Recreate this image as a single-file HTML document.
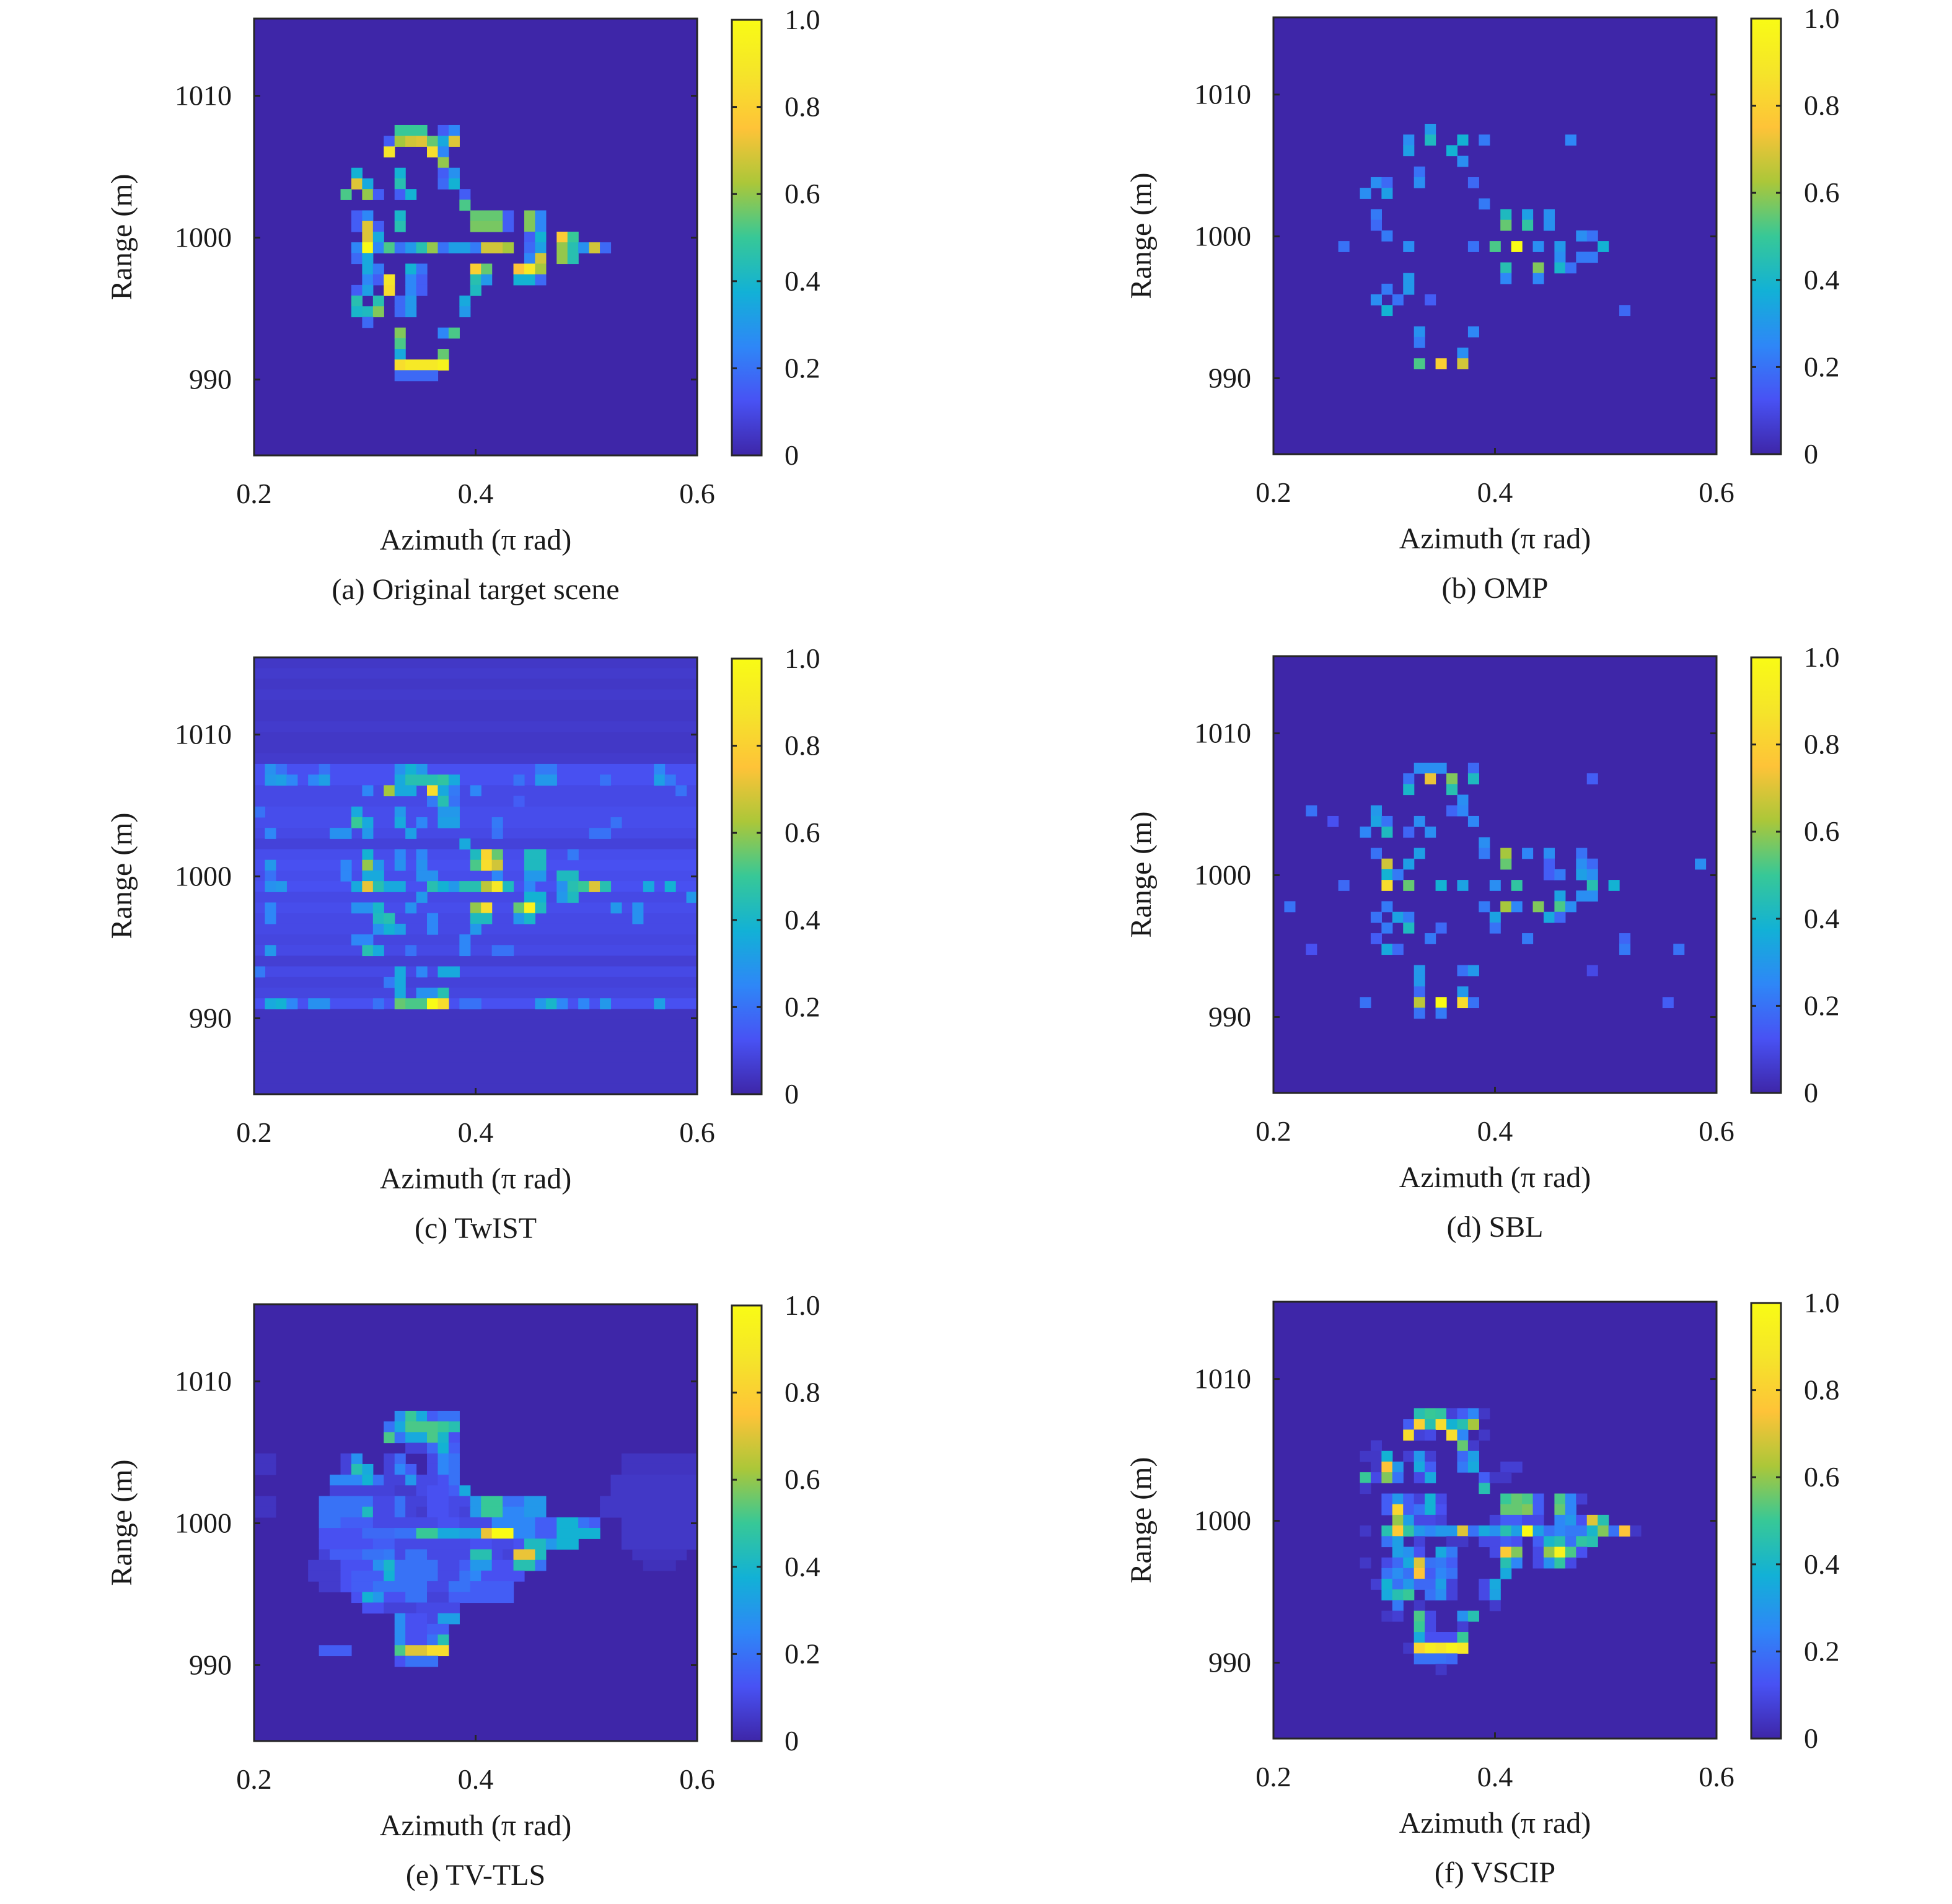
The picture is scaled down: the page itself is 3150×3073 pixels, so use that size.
<!DOCTYPE html>
<html><head><meta charset="utf-8"><style>
html,body{margin:0;padding:0;background:#fff;}
svg{display:block;}
svg text{font-family:"Liberation Serif","DejaVu Serif",serif;fill:#1a1a1a;}
</style></head><body>
<svg id="fig" width="3150" height="3073" viewBox="0 0 3150 3073" font-family="Liberation Serif, DejaVu Serif, serif" xmlns="http://www.w3.org/2000/svg">
<defs>
<linearGradient id="parula" x1="0" y1="1" x2="0" y2="0">
<stop offset="0" stop-color="rgb(62,38,168)"/><stop offset="0.125" stop-color="rgb(72,82,244)"/>
<stop offset="0.25" stop-color="rgb(46,135,247)"/><stop offset="0.375" stop-color="rgb(18,177,214)"/>
<stop offset="0.5" stop-color="rgb(55,200,151)"/><stop offset="0.625" stop-color="rgb(171,199,57)"/>
<stop offset="0.75" stop-color="rgb(254,195,56)"/><stop offset="0.875" stop-color="rgb(245,228,42)"/>
<stop offset="1" stop-color="rgb(249,251,21)"/>
</linearGradient>
</defs>
</svg>
<script>
// ---- shared axis data ----
const nCols = 41, nRows = 41;
const azMin = 0.2, azMax = 0.6;
const rangeTop = 1015.44, rangeBottom = 984.65;
const xTicks = [0.2, 0.4, 0.6];
const xTickLabels = ["0.2", "0.4", "0.6"];
const yTicks = [1010, 1000, 990];
const yTickLabels = ["1010", "1000", "990"];
const cbTicks = [0, 0.2, 0.4, 0.6, 0.8, 1.0];
const cbTickLabels = ["0", "0.2", "0.4", "0.6", "0.8", "1.0"];
const captions = ["(a) Original target scene", "(b) OMP", "(c) TwIST", "(d) SBL", "(e) TV-TLS", "(f) VSCIP"];

// ---- heatmap cell data: [row, colStart, colEnd, value] ----
const cellsA = [
[10,13,15,.5],[10,17,17,.15],[10,18,18,.25],
[11,12,12,.15],[11,13,13,.62],[11,14,14,.68],[11,15,15,.7],[11,16,16,.55],[11,17,17,.35],[11,18,18,.7],
[12,12,12,.88],[12,16,16,.85],[12,17,17,.25],[13,17,17,.6],
[14,9,9,.38],[14,13,13,.38],[14,17,17,.15],[14,18,18,.28],
[15,9,9,.7],[15,10,10,.35],[15,13,13,.45],[15,17,17,.18],[15,18,18,.38],
[16,8,8,.52],[16,10,10,.6],[16,11,11,.15],[16,13,13,.15],[16,14,14,.38],[16,19,19,.15],
[17,19,19,.52],
[18,9,9,.15],[18,10,10,.25],[18,13,13,.4],[18,20,22,.55],[18,23,23,.15],[18,25,25,.58],[18,26,26,.25],
[19,9,9,.15],[19,10,10,.7],[19,11,11,.15],[19,13,13,.45],[19,20,22,.57],[19,23,23,.15],[19,25,25,.58],[19,26,26,.25],
[20,10,10,.7],[20,11,11,.35],[20,25,25,.15],[20,26,26,.38],[20,28,28,.78],[20,29,29,.5],
[21,9,9,.25],[21,10,10,1.0],[21,11,11,.25],[21,12,12,.52],[21,13,13,.2],[21,14,14,.3],[21,15,15,.45],[21,16,16,.6],[21,17,17,.2],[21,18,19,.32],[21,20,20,.22],[21,21,22,.68],[21,23,23,.62],[21,25,25,.18],[21,26,26,.32],[21,28,28,.6],[21,29,29,.45],[21,30,30,.28],[21,31,31,.68],[21,32,32,.18],
[22,9,9,.18],[22,10,10,.35],[22,25,25,.25],[22,26,26,.68],[22,28,28,.6],[22,29,29,.45],
[23,10,10,.35],[23,11,11,.22],[23,14,14,.38],[23,15,15,.2],[23,20,20,.8],[23,21,21,.55],[23,24,24,.75],[23,25,25,.9],[23,26,26,.62],
[24,10,10,.25],[24,11,11,.15],[24,12,12,.88],[24,14,14,.25],[24,15,15,.15],[24,20,20,.45],[24,21,21,.3],[24,24,25,.38],[24,26,26,.18],
[25,9,9,.15],[25,10,10,.32],[25,12,12,.85],[25,14,14,.25],[25,15,15,.15],[25,20,20,.42],
[26,9,9,.45],[26,11,11,.45],[26,13,13,.18],[26,14,14,.3],[26,19,19,.35],
[27,9,9,.4],[27,10,10,.42],[27,11,11,.58],[27,13,13,.18],[27,14,14,.3],[27,19,19,.3],
[28,10,10,.18],[29,13,13,.58],[29,17,17,.25],[29,18,18,.52],[30,13,13,.52],[31,13,13,.35],[31,17,17,.55],
[32,13,13,.85],[32,14,16,.9],[32,17,17,.95],[33,13,16,.18]];

const cellsB = [
[10,14,14,.3],[11,12,12,.27],[11,14,14,.42],[11,17,17,.38],[11,19,19,.22],[11,27,27,.25],
[12,12,12,.32],[12,16,16,.38],[13,17,17,.27],[14,13,13,.2],
[15,9,9,.27],[15,10,10,.18],[15,13,13,.27],[15,18,18,.18],[16,8,8,.27],[16,10,10,.32],[17,19,19,.22],
[18,9,9,.22],[18,21,21,.42],[18,23,23,.32],[18,25,25,.28],[19,9,9,.18],[19,21,21,.55],[19,23,23,.48],[19,25,25,.28],
[20,10,10,.22],[20,28,28,.27],[20,29,29,.2],
[21,6,6,.2],[21,12,12,.27],[21,18,18,.2],[21,20,20,.52],[21,22,22,1.0],[21,24,24,.27],[21,26,26,.3],[21,30,30,.38],
[22,26,26,.27],[22,28,29,.22],[23,21,21,.45],[23,24,24,.58],[23,26,26,.4],[23,27,27,.2],
[24,12,12,.3],[24,21,21,.25],[24,24,24,.25],[25,10,10,.22],[25,12,12,.3],
[26,9,9,.27],[26,11,11,.2],[26,14,14,.15],[27,10,10,.38],[27,32,32,.18],
[29,13,13,.28],[29,18,18,.25],[30,13,13,.22],[31,17,17,.27],[32,13,13,.52],[32,15,15,.8],[32,17,17,.68]];

const rowBaseC = [.05,.06,.05,.06,.05,.05,.06,.05,.05,.06,.12,.12,.1,.1,.11,.11,.1,.08,.11,.12,.11,.12,.1,.11,.1,.1,.09,.1,.07,.1,.08,.09,.12,.04,.04,.04,.04,.04,.04,.04,.04];
const cellsC = [
[10,1,1,.28],[10,2,2,.2],[10,6,6,.2],[10,13,13,.28],[10,14,14,.38],[10,15,15,.3],[10,26,27,.22],[10,37,37,.25],
[11,1,1,.3],[11,2,2,.32],[11,3,3,.25],[11,5,5,.25],[11,6,6,.32],[11,13,13,.35],[11,14,16,.45],[11,17,17,.48],[11,18,18,.35],[11,24,24,.2],[11,26,27,.3],[11,32,32,.2],[11,37,37,.32],[11,38,38,.22],
[12,10,10,.25],[12,12,12,.62],[12,13,14,.35],[12,16,16,.85],[12,17,17,.35],[12,18,18,.22],[12,20,20,.25],[12,39,39,.2],
[13,16,16,.22],[13,17,17,.45],[13,18,18,.2],[13,24,24,.15],
[14,0,0,.2],[14,9,9,.35],[14,13,13,.3],[14,17,18,.3],
[15,9,9,.5],[15,10,10,.35],[15,13,13,.35],[15,15,15,.25],[15,17,18,.32],[15,22,22,.22],[15,33,33,.2],
[16,1,1,.25],[16,7,8,.28],[16,10,10,.3],[16,14,14,.32],[16,22,22,.2],[16,31,32,.2],[17,19,19,.35],
[18,10,10,.38],[18,13,13,.25],[18,15,15,.25],[18,20,20,.42],[18,21,21,.82],[18,22,22,.55],[18,25,26,.42],[18,29,29,.22],
[19,1,1,.3],[19,8,8,.25],[19,10,10,.6],[19,11,11,.3],[19,13,13,.28],[19,15,15,.28],[19,20,20,.52],[19,21,21,.85],[19,22,22,.68],[19,25,26,.42],
[20,1,1,.2],[20,8,8,.25],[20,10,11,.35],[20,15,16,.28],[20,22,22,.25],[20,25,26,.3],[20,28,29,.42],
[21,1,1,.28],[21,2,2,.3],[21,9,9,.35],[21,10,10,.72],[21,11,11,.45],[21,12,13,.35],[21,16,16,.45],[21,17,17,.38],[21,18,18,.3],[21,19,20,.45],[21,21,21,.65],[21,22,22,.9],[21,23,23,.42],[21,25,25,.25],[21,28,28,.28],[21,29,29,.45],[21,30,30,.5],[21,31,31,.7],[21,32,32,.45],[21,36,36,.35],[21,38,38,.38],
[22,15,15,.3],[22,25,26,.38],[22,28,28,.3],[22,29,29,.42],[22,40,40,.3],
[23,1,1,.25],[23,9,10,.28],[23,11,11,.4],[23,14,14,.28],[23,20,20,.6],[23,21,21,.85],[23,24,24,.55],[23,25,25,.95],[23,26,26,.42],[23,33,33,.3],[23,35,35,.28],
[24,1,1,.25],[24,11,11,.42],[24,12,12,.45],[24,16,16,.25],[24,20,21,.42],[24,24,24,.3],[24,25,25,.4],[24,35,35,.28],
[25,11,11,.28],[25,12,12,.38],[25,13,13,.32],[25,16,16,.25],[25,20,20,.3],[26,9,10,.25],[26,19,19,.25],
[27,1,1,.3],[27,10,10,.45],[27,11,11,.35],[27,14,14,.2],[27,19,19,.25],[27,22,23,.2],
[29,0,0,.22],[29,13,13,.35],[29,15,15,.25],[29,17,18,.35],[30,12,12,.22],[30,13,13,.35],[31,13,13,.35],[31,15,16,.28],[31,17,17,.45],
[32,1,1,.35],[32,2,2,.38],[32,3,3,.25],[32,5,6,.28],[32,11,11,.2],[32,13,13,.55],[32,14,15,.52],[32,16,16,1.0],[32,17,17,.85],[32,19,20,.2],[32,26,26,.3],[32,27,27,.4],[32,28,28,.25],[32,30,30,.25],[32,32,32,.3],[32,37,37,.32]];

const cellsD = [
[10,13,15,.27],[10,18,18,.18],[11,12,12,.2],[11,14,14,.72],[11,16,16,.58],[11,18,18,.42],[11,29,29,.15],
[12,12,12,.4],[12,16,16,.45],[13,17,17,.27],
[14,3,3,.2],[14,9,9,.3],[14,16,16,.17],[14,17,17,.25],
[15,5,5,.12],[15,9,9,.33],[15,10,10,.2],[15,13,13,.27],[15,18,18,.25],
[16,8,8,.25],[16,10,10,.42],[16,12,12,.17],[16,14,14,.27],[17,19,19,.27],
[18,9,9,.2],[18,13,13,.32],[18,19,19,.22],[18,21,21,.62],[18,23,23,.25],[18,25,25,.27],[18,28,28,.2],
[19,10,10,.68],[19,12,12,.32],[19,21,21,.55],[19,25,25,.15],[19,28,28,.27],[19,29,29,.18],[19,39,39,.27],
[20,10,10,.38],[20,11,11,.22],[20,25,25,.15],[20,26,26,.22],[20,28,28,.32],[20,29,29,.27],
[21,6,6,.18],[21,10,10,.85],[21,12,12,.55],[21,15,15,.38],[21,17,17,.33],[21,20,20,.27],[21,22,22,.48],[21,29,29,.45],[21,31,31,.38],
[22,26,26,.33],[22,28,29,.27],
[23,1,1,.2],[23,10,10,.22],[23,19,19,.22],[23,21,21,.62],[23,22,22,.25],[23,24,24,.58],[23,26,26,.52],[23,27,27,.27],
[24,9,9,.2],[24,11,11,.33],[24,12,12,.22],[24,20,20,.33],[24,25,25,.35],[24,26,26,.18],
[25,10,10,.22],[25,12,12,.42],[25,15,15,.18],[25,20,20,.2],
[26,9,9,.15],[26,14,14,.22],[26,23,23,.22],[26,32,32,.17],
[27,3,3,.12],[27,10,10,.35],[27,11,11,.18],[27,32,32,.22],[27,37,37,.2],
[29,13,13,.3],[29,17,17,.2],[29,18,18,.3],[29,29,29,.1],[30,13,13,.3],[31,13,13,.18],[31,17,17,.3],
[32,8,8,.2],[32,13,13,.65],[32,15,15,1.0],[32,17,17,.85],[32,18,18,.2],[32,36,36,.15],[33,13,13,.2],[33,15,15,.22]];

const cellsE = [
[14,34,40,.04],[15,34,40,.04],[16,33,40,.05],[17,33,40,.05],[18,32,40,.05],[19,32,40,.05],[20,34,40,.05],[21,34,40,.05],[22,34,40,.05],[23,35,39,.04],[24,36,38,.03],
[14,0,1,.04],[15,0,1,.04],[18,0,1,.04],[19,0,1,.04],
[10,13,13,.28],[10,14,14,.5],[10,15,15,.35],[10,16,16,.15],[10,17,18,.2],
[11,12,12,.2],[11,13,13,.35],[11,14,16,.52],[11,17,17,.5],[11,18,18,.45],
[12,12,12,.52],[12,13,13,.2],[12,14,15,.35],[12,16,16,.52],[12,17,17,.4],[12,18,18,.12],
[13,14,15,.08],[13,16,16,.18],[13,17,17,.38],[13,18,18,.15],
[14,8,8,.08],[14,9,9,.28],[14,12,12,.08],[14,13,13,.18],[14,16,16,.1],[14,17,17,.25],[14,18,18,.2],
[15,8,8,.08],[15,9,9,.45],[15,10,10,.35],[15,12,12,.08],[15,13,13,.25],[15,14,14,.15],[15,16,16,.1],[15,17,17,.25],[15,18,18,.2],
[16,7,9,.25],[16,10,10,.38],[16,11,11,.2],[16,12,13,.08],[16,14,14,.3],[16,15,16,.1],[16,17,17,.12],[16,18,18,.2],
[17,7,12,.08],[17,13,14,.06],[17,15,15,.1],[17,16,17,.12],[17,18,18,.15],[17,19,19,.35],
[18,6,9,.2],[18,10,10,.2],[18,11,12,.1],[18,13,13,.2],[18,14,15,.08],[18,16,17,.12],[18,18,19,.1],[18,20,20,.3],[18,21,22,.5],[18,23,24,.2],[18,25,26,.3],
[19,6,9,.2],[19,10,10,.42],[19,11,12,.1],[19,13,13,.2],[19,14,14,.08],[19,15,15,.06],[19,16,17,.12],[19,18,18,.1],[19,19,19,.08],[19,20,20,.3],[19,21,22,.5],[19,23,24,.25],[19,25,26,.3],
[20,6,7,.2],[20,8,10,.15],[20,11,16,.1],[20,17,18,.12],[20,19,21,.1],[20,22,25,.25],[20,26,27,.15],[20,28,29,.38],[20,30,30,.2],[20,31,31,.15],
[21,6,9,.12],[21,10,12,.18],[21,13,14,.2],[21,15,16,.5],[21,17,18,.35],[21,19,20,.32],[21,21,21,.72],[21,22,23,1.0],[21,24,25,.25],[21,26,27,.15],[21,28,31,.38],
[22,6,10,.12],[22,11,12,.15],[22,13,19,.1],[22,20,21,.12],[22,22,23,.1],[22,24,24,.12],[22,25,26,.42],[22,27,27,.3],[22,28,29,.38],
[23,6,6,.08],[23,7,9,.15],[23,10,11,.2],[23,12,12,.22],[23,13,13,.1],[23,14,15,.2],[23,16,19,.1],[23,20,21,.45],[23,22,22,.1],[23,23,23,.08],[23,24,25,.72],[23,26,26,.42],
[24,5,7,.06],[24,8,10,.12],[24,11,11,.28],[24,12,12,.4],[24,13,16,.2],[24,17,18,.1],[24,19,19,.15],[24,20,21,.3],[24,22,23,.12],[24,24,25,.45],[24,26,26,.2],
[25,5,7,.06],[25,8,8,.12],[25,9,11,.15],[25,12,12,.38],[25,13,16,.2],[25,17,18,.1],[25,19,19,.2],[25,20,20,.25],[25,21,24,.12],
[26,6,7,.06],[26,8,8,.12],[26,9,10,.15],[26,11,15,.2],[26,16,17,.1],[26,18,19,.2],[26,20,23,.15],
[27,9,9,.12],[27,10,10,.38],[27,11,11,.3],[27,12,13,.12],[27,14,15,.2],[27,16,17,.08],[27,18,23,.15],
[28,10,11,.12],[28,12,14,.08],[28,15,18,.1],
[29,13,13,.27],[29,14,15,.12],[29,16,16,.1],[29,17,18,.32],
[30,13,13,.27],[30,14,15,.12],[30,16,17,.15],
[31,13,13,.27],[31,14,15,.12],[31,16,16,.2],[31,17,17,.45],
[32,6,8,.15],[32,13,13,.52],[32,14,15,.7],[32,16,17,.85],[33,13,13,.12],[33,14,16,.2]];

const cellsF = [
[10,13,13,.45],[10,14,14,.5],[10,15,15,.48],[10,16,16,.08],[10,17,17,.15],[10,18,18,.25],[10,19,19,.05],
[11,12,12,.15],[11,13,13,.8],[11,14,14,.45],[11,15,15,.85],[11,16,16,.38],[11,17,17,.45],[11,18,18,.62],
[12,12,12,.85],[12,13,13,.08],[12,14,14,.1],[12,16,16,.85],[12,17,17,.25],[12,19,19,.05],
[13,9,9,.06],[13,17,17,.55],[13,18,18,.06],
[14,8,9,.05],[14,10,10,.38],[14,12,12,.07],[14,13,13,.3],[14,14,14,.07],[14,17,17,.18],[14,18,18,.32],
[15,9,9,.05],[15,10,10,.75],[15,11,11,.3],[15,13,13,.35],[15,14,14,.15],[15,17,17,.22],[15,18,18,.35],[15,21,22,.07],
[16,8,8,.5],[16,9,9,.1],[16,10,10,.58],[16,11,11,.2],[16,13,13,.1],[16,14,14,.35],[16,19,19,.15],[16,20,21,.05],
[17,8,8,.05],[17,19,19,.45],
[18,10,10,.15],[18,11,11,.3],[18,12,12,.15],[18,13,13,.08],[18,14,14,.38],[18,15,15,.1],[18,21,21,.5],[18,22,22,.55],[18,23,23,.52],[18,24,24,.15],[18,26,26,.52],[18,27,27,.25],[18,28,28,.07],
[19,10,10,.15],[19,11,11,.82],[19,12,12,.15],[19,13,13,.2],[19,14,14,.38],[19,15,15,.12],[19,21,22,.55],[19,23,23,.58],[19,24,24,.15],[19,26,26,.55],[19,27,27,.25],
[20,11,11,.6],[20,12,12,.32],[20,13,14,.1],[20,15,15,.08],[20,20,20,.08],[20,21,22,.15],[20,23,24,.1],[20,26,26,.25],[20,27,27,.3],[20,28,28,.12],[20,29,29,.7],[20,30,30,.45],
[21,8,8,.05],[21,10,10,.45],[21,11,11,.78],[21,12,12,.48],[21,13,13,.3],[21,14,14,.25],[21,15,16,.3],[21,17,17,.7],[21,18,18,.2],[21,19,19,.35],[21,20,20,.28],[21,21,21,.45],[21,22,22,.32],[21,23,23,1.0],[21,24,24,.32],[21,25,25,.2],[21,26,26,.25],[21,27,28,.22],[21,29,29,.4],[21,30,30,.58],[21,31,31,.2],[21,32,32,.75],[21,33,33,.05],
[22,10,10,.2],[22,11,11,.32],[22,13,13,.08],[22,16,17,.05],[22,19,20,.1],[22,21,21,.15],[22,22,22,.12],[22,24,24,.15],[22,25,25,.4],[22,26,26,.45],[22,27,27,.2],[22,28,28,.48],[22,29,29,.45],
[23,11,11,.32],[23,12,12,.28],[23,13,13,.12],[23,15,15,.35],[23,16,16,.22],[23,20,20,.1],[23,21,21,.78],[23,22,22,.58],[23,24,24,.1],[23,25,25,.6],[23,26,26,.95],[23,27,27,.52],[23,28,28,.12],
[24,8,8,.05],[24,10,10,.1],[24,11,11,.18],[24,12,12,.35],[24,13,13,.7],[24,14,14,.2],[24,15,15,.22],[24,16,16,.15],[24,21,21,.45],[24,22,22,.25],[24,24,24,.1],[24,25,25,.28],[24,26,26,.48],[24,27,27,.1],
[25,10,10,.2],[25,11,11,.27],[25,12,12,.2],[25,13,13,.75],[25,14,14,.15],[25,15,15,.25],[25,16,16,.2],[25,21,21,.35],
[26,9,9,.07],[26,10,10,.38],[26,11,11,.2],[26,12,12,.3],[26,13,14,.18],[26,15,15,.32],[26,16,16,.08],[26,19,19,.1],[26,20,20,.35],
[27,10,10,.35],[27,11,11,.45],[27,12,12,.5],[27,14,14,.2],[27,15,15,.27],[27,16,16,.08],[27,19,19,.1],[27,20,20,.33],
[28,11,11,.22],[28,13,13,.05],[28,20,20,.06],
[29,10,10,.05],[29,11,11,.07],[29,13,13,.52],[29,14,14,.1],[29,17,17,.28],[29,18,18,.45],
[30,13,13,.5],[30,14,14,.1],[30,17,17,.07],
[31,13,13,.35],[31,14,16,.12],[31,17,17,.5],
[32,12,12,.05],[32,13,13,.82],[32,14,14,.92],[32,15,15,.88],[32,16,16,.95],[32,17,17,.9],
[33,13,15,.2],[33,16,16,.18],[34,15,15,.05]];

// ---- layout ----
const panels = [
 {id:"a", left:410, top:30, cells:cellsA},
 {id:"b", left:2055, top:28, cells:cellsB},
 {id:"c", left:410, top:1061, cells:cellsC, rowBase:rowBaseC},
 {id:"d", left:2055, top:1059, cells:cellsD},
 {id:"e", left:410, top:2105, cells:cellsE},
 {id:"f", left:2055, top:2101, cells:cellsF}
];
const PW = 715, PH = 705;
const NS = "http://www.w3.org/2000/svg";
const FONT = "Liberation Serif, DejaVu Serif, serif";
const svg = document.getElementById("fig");

const stops = [[0,62,38,168],[.125,72,82,244],[.25,46,135,247],[.375,18,177,214],[.5,55,200,151],[.625,171,199,57],[.75,254,195,56],[.875,245,228,42],[1,249,251,21]];
function parula(v){
  v = Math.max(0, Math.min(1, v));
  for (let i = 1; i < stops.length; i++) {
    if (v <= stops[i][0]) {
      const a = stops[i-1], b = stops[i], t = (v - a[0]) / (b[0] - a[0]);
      return "rgb(" + [1,2,3].map(k => Math.round(a[k] + (b[k]-a[k])*t)).join(",") + ")";
    }
  }
  return "rgb(249,251,21)";
}
function mk(tag, attrs, parent){
  const e = document.createElementNS(NS, tag);
  for (const k in attrs) e.setAttribute(k, attrs[k]);
  if (tag === "text") e.setAttribute("font-family", FONT);
  (parent || svg).appendChild(e);
  return e;
}

panels.forEach((p, pi) => {
  const g = mk("g", {});
  
  
  const cw = PW / nCols, ch = PH / nRows;
  const xScale = az => p.left + (az - azMin) / (azMax - azMin) * PW;
  const yScale = r => p.top + (rangeTop - r) / (rangeTop - rangeBottom) * PH;

  const bg = mk("rect", {x:p.left, y:p.top, width:PW, height:PH, fill:parula(0)}, g);
  
  

  if (p.rowBase) {
    p.rowBase.forEach((v, r) => {
      const rr = mk("rect", {x:p.left, y:p.top + r*ch, width:PW, height:ch + 0.6, fill:parula(v)}, g);
      
      
    });
  }
  p.cells.forEach(c => {
    const [r, c0, c1, v] = c;
    const cell = mk("rect", {x:p.left + c0*cw, y:p.top + r*ch, width:(c1 - c0 + 1)*cw + 0.6, height:ch + 0.6, fill:parula(v)}, g);
    
    
  });

  const frame = mk("rect", {x:p.left, y:p.top, width:PW, height:PH, fill:"none", stroke:"#262626", "stroke-width":3}, g);
  
  

  xTicks.forEach((t, i) => {
    const x = xScale(t);
    mk("line", {x1:x, y1:p.top + PH, x2:x, y2:p.top + PH - 10, stroke:"#262626", "stroke-width":3}, g);
    const lab = mk("text", {x:x, y:p.top + PH + 77, "font-size":46, "text-anchor":"middle"}, g);
    lab.textContent = xTickLabels[i];
    
    
  });
  yTicks.forEach((t, i) => {
    const y = yScale(t);
    mk("line", {x1:p.left, y1:y, x2:p.left + 10, y2:y, stroke:"#262626", "stroke-width":3}, g);
    mk("line", {x1:p.left + PW, y1:y, x2:p.left + PW - 10, y2:y, stroke:"#262626", "stroke-width":3}, g);
    const lab = mk("text", {x:p.left - 36, y:y + 15, "font-size":46, "text-anchor":"end"}, g);
    lab.textContent = yTickLabels[i];
    
    
  });

  const xl = mk("text", {x:p.left + PW/2, y:p.top + PH + 152, "font-size":48, "text-anchor":"middle"}, g);
  xl.textContent = "Azimuth (\u03c0 rad)";
  
  

  const ycx = p.left - 198, ycy = p.top + PH/2;
  const yl = mk("text", {x:ycx, y:ycy, "font-size":48, "text-anchor":"middle", transform:"rotate(-90 " + ycx + " " + ycy + ")"}, g);
  yl.textContent = "Range (m)";
  
  

  const cap = mk("text", {x:p.left + PW/2, y:p.top + PH + 232, "font-size":48, "text-anchor":"middle"}, g);
  cap.textContent = captions[pi];
  
  

  // colorbar
  const cbx = p.left + 771, cbw = 48, cby = p.top + 2, cbh = PH - 2;
  const cb = mk("rect", {x:cbx, y:cby, width:cbw, height:cbh, fill:"url(#parula)", stroke:"#262626", "stroke-width":3}, g);
  
  
  cbTicks.forEach((t, i) => {
    const y = cby + cbh - t * cbh;
    mk("line", {x1:cbx, y1:y, x2:cbx + 8, y2:y, stroke:"#262626", "stroke-width":3}, g);
    mk("line", {x1:cbx + cbw, y1:y, x2:cbx + cbw - 8, y2:y, stroke:"#262626", "stroke-width":3}, g);
    const lab = mk("text", {x:cbx + 85, y:y + 15, "font-size":46, "text-anchor":"start"}, g);
    lab.textContent = cbTickLabels[i];
    
    
  });
});
</script>
</body></html>
